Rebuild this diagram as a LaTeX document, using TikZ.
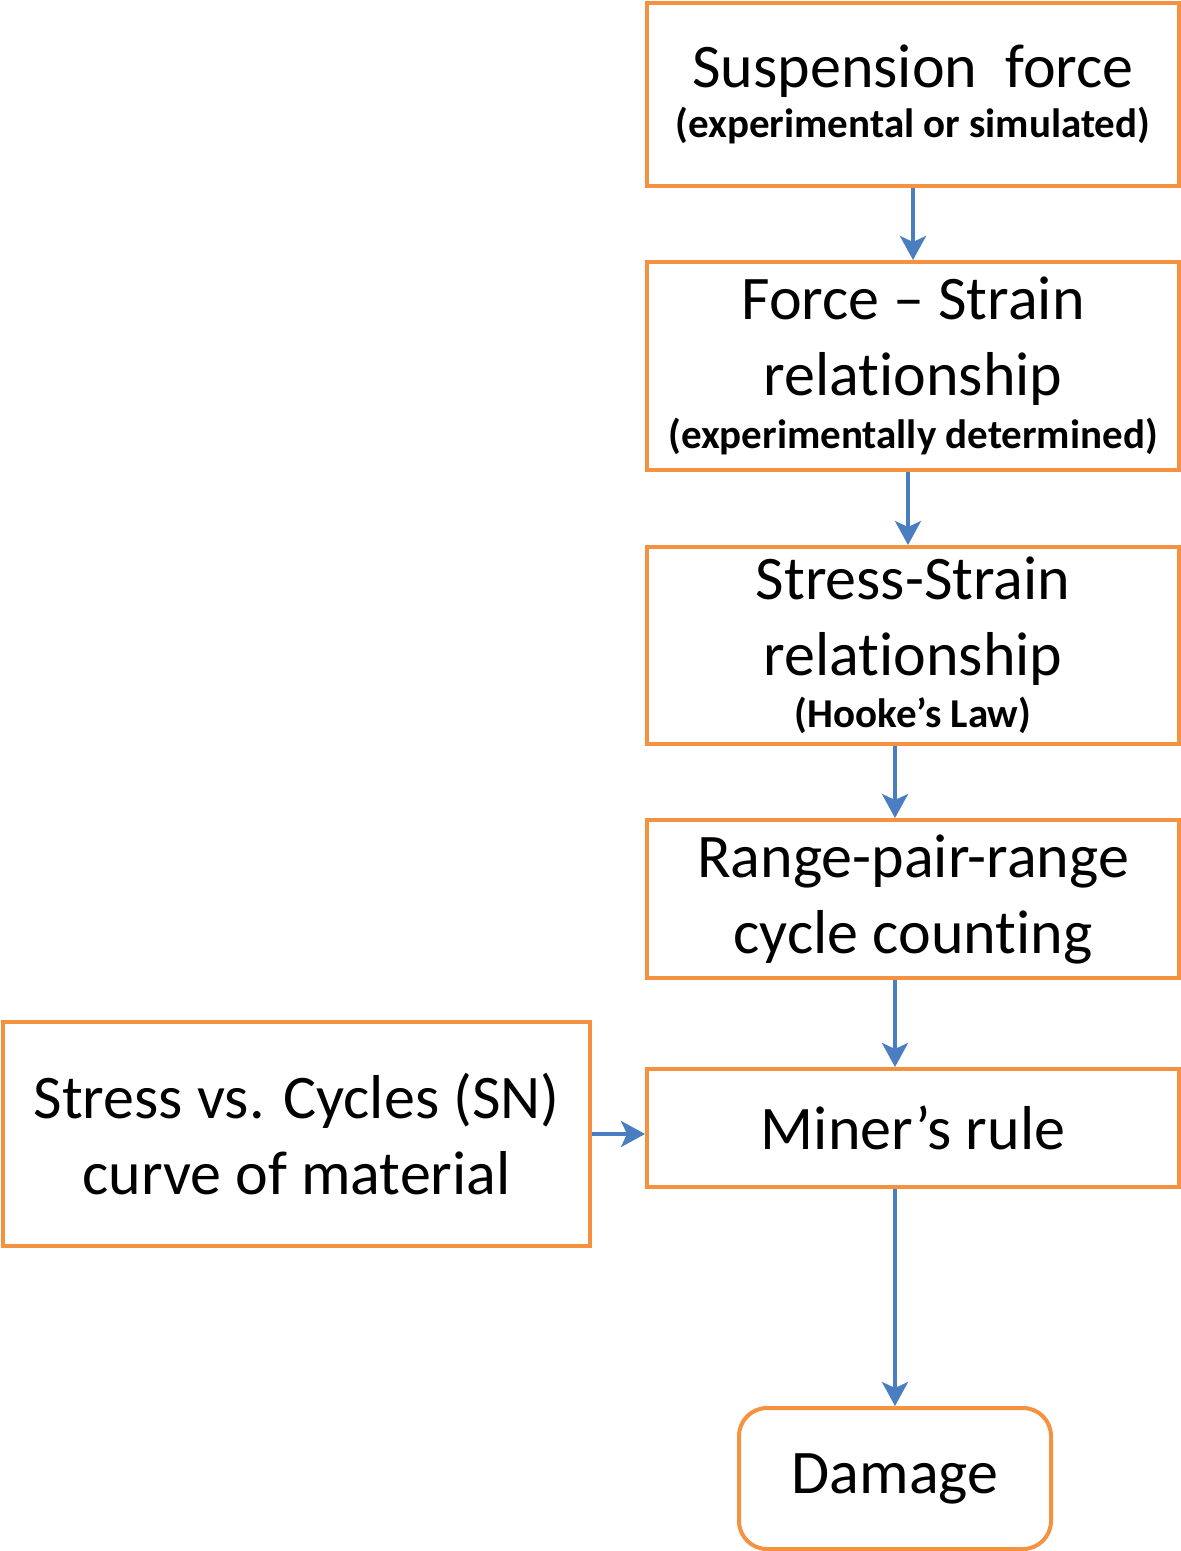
\documentclass[tikz,border=0pt]{standalone}
\usepackage{fontspec}
\setmainfont{Carlito}[Ligatures=CommonOff]
\usetikzlibrary{arrows.meta}
\definecolor{boxorange}{RGB}{244,146,66}
\definecolor{arrowblue}{RGB}{74,126,193}
\newcommand{\subtext}{\fontsize{20.5}{22}\bfseries}

\begin{document}
\begin{tikzpicture}[x=0.5pt,y=0.5pt,yscale=-1,xscale=1,
  stepbox/.style={draw=boxorange,line width=2pt,fill=white,align=center,inner sep=0pt,minimum width=266pt,font=\fontsize{31}{38}\selectfont},
  flow/.style={draw=arrowblue,line width=1.8pt,-{Stealth[length=12pt,width=13pt,inset=3pt]}}]
\useasboundingbox (0,0) rectangle (1181,1551);

%Shape: Rectangle
\node [stepbox,minimum height=91.5pt] (susp) at (913,94.5) {Suspension\ \ force\\[-13pt]{\subtext (experimental or simulated)}};
%Shape: Rectangle
\node [stepbox,minimum height=104pt] (fs) at (913,366) {Force -- Strain\\relationship\\[-11.5pt]{\subtext (experimentally determined)}};
%Shape: Rectangle
\node [stepbox,minimum height=98.5pt] (ss) at (913,645.5) {Stress-Strain\\relationship\\[-12pt]{\subtext (Hooke’s Law)}};
%Shape: Rectangle
\node [stepbox,minimum height=79pt] (rc) at (913,899) {Range-pair-range\\cycle counting};
%Shape: Rectangle
\node [stepbox,minimum height=59pt] (mr) at (913,1128) {Miner’s rule};
%Shape: Rectangle
\node [stepbox,minimum width=293.5pt,minimum height=112pt] (sn) at (296.5,1134) {Stress vs. Cycles (SN)\\curve of material};
%Rounded Rect
\node [stepbox,rounded corners=14pt,minimum width=156pt,minimum height=70.5pt] (dmg) at (895,1478.5) {Damage};

%Straight Lines
\draw [flow] (susp) -- (fs);
\draw [flow] ([xshift=-2.5pt]fs.south) -- ([xshift=-2.5pt]ss.north);
\draw [flow] ([xshift=-9pt]ss.south) -- ([xshift=-9pt]rc.north);
\draw [flow] ([xshift=-9pt]rc.south) -- ([xshift=-9pt]mr.north);
\draw [flow] (mr.south -| dmg.north) -- (dmg.north);
\draw [flow] (sn.east) -- (sn.east -| mr.west);

\end{tikzpicture}
\end{document}
